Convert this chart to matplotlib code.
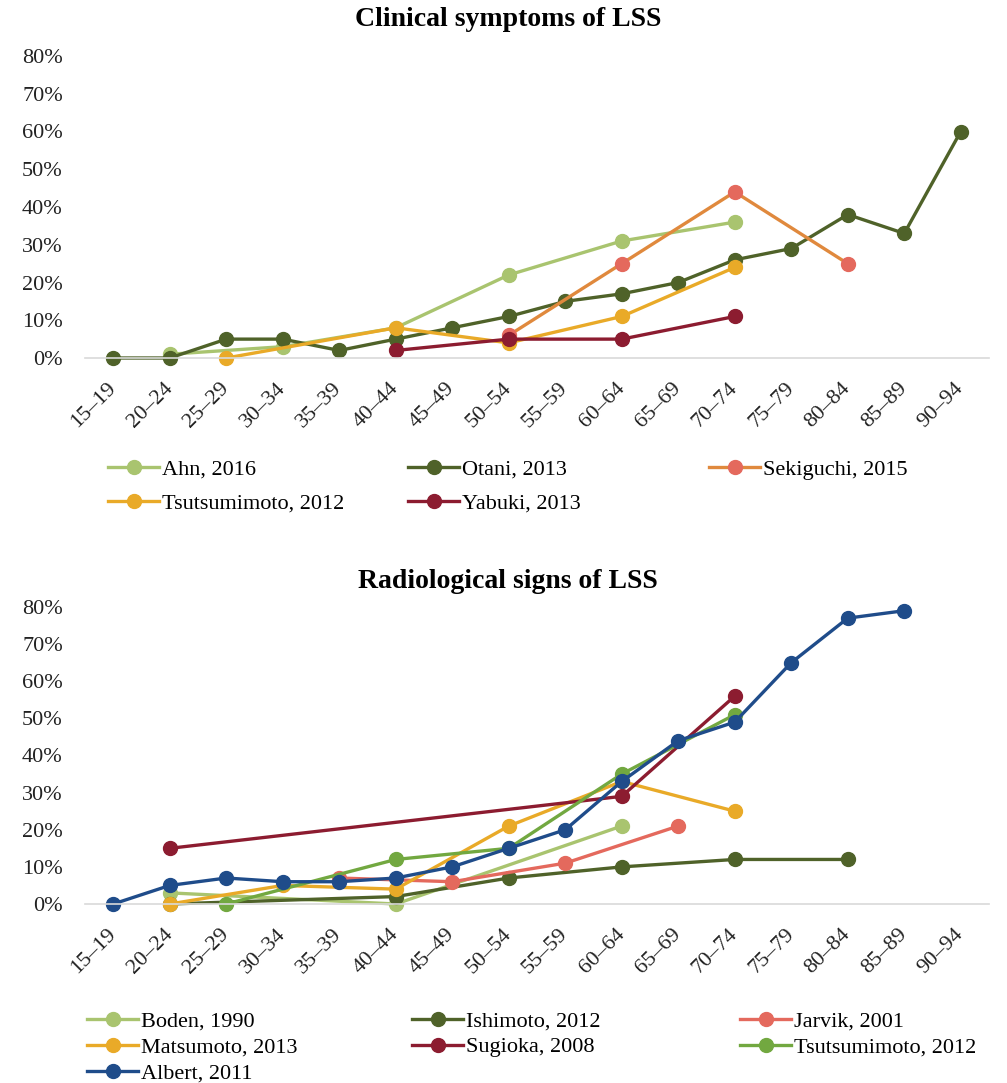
import numpy as np
import matplotlib
matplotlib.use("Agg")
import matplotlib.pyplot as plt

plt.rcParams['font.family'] = ['Liberation Serif', 'DejaVu Serif']

age_groups = ['15–19', '20–24', '25–29', '30–34', '35–39', '40–44', '45–49', '50–54',
              '55–59', '60–64', '65–69', '70–74', '75–79', '80–84', '85–89', '90–94']

# clinical symptoms (percent), keyed by age group
ahn_2016 = {'20–24': 1, '30–34': 3, '40–44': 8, '50–54': 22, '60–64': 31, '70–74': 36}
otani_2013 = {'15–19': 0, '20–24': 0, '25–29': 5, '30–34': 5, '35–39': 2, '40–44': 5,
              '45–49': 8, '50–54': 11, '55–59': 15, '60–64': 17, '65–69': 20, '70–74': 26,
              '75–79': 29, '80–84': 38, '85–89': 33, '90–94': 60}
sekiguchi_2015 = {'50–54': 6, '60–64': 25, '70–74': 44, '80–84': 25}
tsutsumimoto_clin = {'25–29': 0, '40–44': 8, '50–54': 4, '60–64': 11, '70–74': 24}
yabuki_2013 = {'40–44': 2, '50–54': 5, '60–64': 5, '70–74': 11}

# radiological signs (percent)
boden_1990 = {'20–24': 3, '40–44': 0, '60–64': 21}
ishimoto_2012 = {'20–24': 0, '40–44': 2, '50–54': 7, '60–64': 10, '70–74': 12, '80–84': 12}
jarvik_2001 = {'35–39': 7, '45–49': 6, '55–59': 11, '65–69': 21}
matsumoto_2013 = {'20–24': 0, '30–34': 5, '40–44': 4, '50–54': 21, '60–64': 33, '70–74': 25}
sugioka_2008 = {'20–24': 15, '60–64': 29, '70–74': 56}
tsutsumimoto_rad = {'25–29': 0, '40–44': 12, '50–54': 15, '60–64': 35, '70–74': 51}
albert_2011 = {'15–19': 0, '20–24': 5, '25–29': 7, '30–34': 6, '35–39': 6, '40–44': 7,
               '45–49': 10, '50–54': 15, '55–59': 20, '60–64': 33, '65–69': 44, '70–74': 49,
               '75–79': 65, '80–84': 77, '85–89': 79}

LIGHT_GREEN = '#a9c46f'
OLIVE = '#4f6229'
ORANGE = '#e9aa28'
DARK_RED = '#8c1c30'
SALMON = '#e4695d'

clinical = [
    ('Ahn, 2016', ahn_2016, LIGHT_GREEN, LIGHT_GREEN),
    ('Otani, 2013', otani_2013, OLIVE, OLIVE),
    ('Sekiguchi, 2015', sekiguchi_2015, '#e0893d', SALMON),
    ('Tsutsumimoto, 2012', tsutsumimoto_clin, ORANGE, ORANGE),
    ('Yabuki, 2013', yabuki_2013, DARK_RED, DARK_RED),
]
radiological = [
    ('Boden, 1990', boden_1990, LIGHT_GREEN, LIGHT_GREEN),
    ('Ishimoto, 2012', ishimoto_2012, OLIVE, OLIVE),
    ('Jarvik, 2001', jarvik_2001, SALMON, SALMON),
    ('Matsumoto, 2013', matsumoto_2013, ORANGE, ORANGE),
    ('Sugioka, 2008', sugioka_2008, DARK_RED, DARK_RED),
    ('Tsutsumimoto, 2012', tsutsumimoto_rad, '#72a840', '#72a840'),
    ('Albert, 2011', albert_2011, '#1f4c8a', '#1f4c8a'),
]

W, H = 1007, 1083
fig = plt.figure(figsize=(W / 100, H / 100), dpi=100)


def draw_panel(rect, title, title_y, series, legend_top, legend_cols_x, row_pitch):
    ax = fig.add_axes(rect)
    handles = []
    for name, data, lc, mc in series:
        xs = [age_groups.index(k) for k in data]
        ys = [v / 100 for v in data.values()]
        ln, = ax.plot(xs, ys, color=lc, lw=2.4, marker='o', ms=10,
                      markerfacecolor=mc, markeredgecolor=mc, label=name,
                      clip_on=False)
        handles.append(ln)
    ax.set_xlim(-0.5, len(age_groups) - 0.5)
    ax.set_ylim(0, 0.8)
    ticks = np.arange(0, 0.81, 0.1)
    ax.set_yticks(ticks)
    ax.set_yticklabels([f'{int(round(v * 100))}%' for v in ticks])
    ax.set_xticks(range(len(age_groups)))
    ax.set_xticklabels(age_groups, rotation=45, ha='right', va='center',
                       rotation_mode='anchor')
    ax.tick_params(axis='both', length=0, labelsize=16, colors='#222222')
    ax.tick_params(axis='x', pad=20)
    ax.tick_params(axis='y', pad=16)
    for s in ['top', 'right', 'left']:
        ax.spines[s].set_visible(False)
    ax.spines['bottom'].set_color('#d9d9d9')
    ax.spines['bottom'].set_linewidth(1.2)
    fig.text(508 / W, 1 - title_y / H, title, ha='center', va='center',
             fontsize=20, fontweight='bold')

    # legend laid out row by row: one legend per column
    for c, x0 in enumerate(legend_cols_x):
        col = [handles[i] for i in range(c, len(handles), 3)]
        fig.legend(handles=col, labels=[h.get_label() for h in col],
                   loc='upper left', bbox_to_anchor=(x0 / W, 1 - legend_top / H),
                   frameon=False, fontsize=16, handlelength=2.3,
                   handletextpad=0.15, borderpad=0, borderaxespad=0,
                   labelspacing=row_pitch)
    return ax


draw_panel([85 / W, 1 - 358 / H, 904 / W, 302 / H], 'Clinical symptoms of LSS', 19,
           clinical, 459, [108, 408, 709], 0.6)
draw_panel([85 / W, 1 - 904 / H, 904 / W, 297 / H], 'Radiological signs of LSS', 581,
           radiological, 1011, [87, 412, 740], 0.24)

fig.savefig('out.png', dpi=100)
